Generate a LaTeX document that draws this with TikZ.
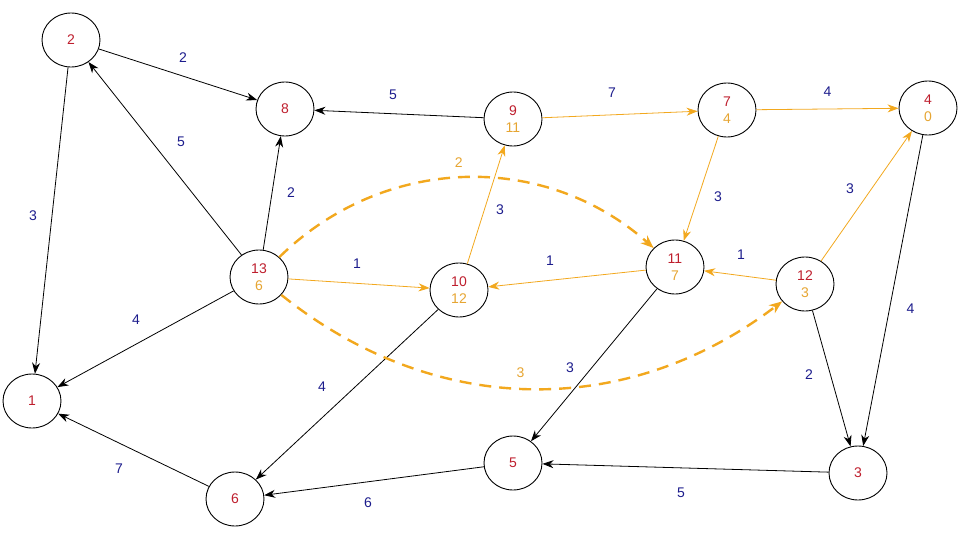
\documentclass[tikz,border=0pt]{standalone}
\usepackage{fontspec}
\setmainfont{Liberation Sans}
\usetikzlibrary{shapes.geometric, arrows.meta}

\definecolor{numred}{RGB}{190,30,45}
\definecolor{pathorange}{RGB}{242,168,30}
\definecolor{distorange}{RGB}{230,165,50}
\definecolor{wblue}{RGB}{28,28,140}

\begin{document}
\begin{tikzpicture}[
			x=1pt, y=-1pt,
			vertex/.style={ellipse, draw, line width=0.9pt, minimum width=58pt, minimum height=54pt, inner sep=0pt, align=center, font=\fontsize{14}{17}\selectfont},
			arrow/.style={-{Stealth[length=11pt, width=8pt, inset=3.5pt]}, line width=0.8pt},
			tree/.style={arrow, draw=pathorange},
			jump/.style={-{Stealth[length=13pt, width=10pt, inset=4pt]}, draw=pathorange, line width=2.4pt, dash pattern=on 12pt off 8pt},
			lbl/.style={font=\fontsize{14}{16}\selectfont, text=wblue},
			jlbl/.style={font=\fontsize{14}{16}\selectfont, text=distorange}
			]
			\useasboundingbox (0,0) rectangle (960,540);
			% vertices: number on top, distance below
			\node[vertex] (n1) at (32,401) {\textcolor{numred}{1}};
			\node[vertex] (n2) at (71,40) {\textcolor{numred}{2}};
			\node[vertex] (n3) at (858,473) {\textcolor{numred}{3}};
			\node[vertex] (n4) at (928,108) {\textcolor{numred}{4}\\\textcolor{distorange}{0}};
			\node[vertex] (n5) at (513,463) {\textcolor{numred}{5}};
			\node[vertex] (n6) at (235,499) {\textcolor{numred}{6}};
			\node[vertex] (n7) at (727,110) {\textcolor{numred}{7}\\\textcolor{distorange}{4}};
			\node[vertex] (n8) at (285,109) {\textcolor{numred}{8}};
			\node[vertex] (n9) at (513,119) {\textcolor{numred}{9}\\\textcolor{distorange}{11}};
			\node[vertex] (n10) at (459,290) {\textcolor{numred}{10}\\\textcolor{distorange}{12}};
			\node[vertex] (n11) at (675,267) {\textcolor{numred}{11}\\\textcolor{distorange}{7}};
			\node[vertex] (n12) at (805,284) {\textcolor{numred}{12}\\\textcolor{distorange}{3}};
			\node[vertex] (n13) at (259,277) {\textcolor{numred}{13}\\\textcolor{distorange}{6}};
			
			% plain edges
			\draw[arrow] (n2) -- node[lbl, shift={(5,-16.5)}] {2} (n8);
			\draw[arrow] (n2) -- node[lbl, shift={(-18.5,-4.5)}] {3} (n1);
			\draw[arrow] (n13) -- node[lbl, shift={(16,-16.5)}] {5} (n2);
			\draw[arrow] (n13) -- node[lbl, shift={(19,0)}] {2} (n8);
			\draw[arrow] (n9) -- node[lbl, shift={(-6,-19)}] {5} (n8);
			\draw[arrow] (n13) -- node[lbl, shift={(-9.5,-19)}] {4} (n1);
			\draw[arrow] (n10) -- node[lbl, shift={(-25,-7.5)}] {4} (n6);
			\draw[arrow] (n6) -- node[lbl, shift={(-14.5,19)}] {7} (n1);
			\draw[arrow] (n5) -- node[lbl, shift={(-6,22)}] {6} (n6);
			\draw[arrow] (n11) -- node[lbl, shift={(-24,3)}] {3} (n5);
			\draw[arrow] (n12) -- node[lbl, shift={(-22.5,-3.5)}] {2} (n3);
			\draw[arrow] (n4) -- node[lbl, pos=0.56, shift={(21,0)}] {4} (n3);
			\draw[arrow] (n3) -- node[lbl, shift={(-4.5,25)}] {5} (n5);
			
			% shortest path tree
			\draw[tree] (n9) -- node[lbl, shift={(-8,-22)}] {7} (n7);
			\draw[tree] (n7) -- node[lbl, shift={(0,-17)}] {4} (n4);
			\draw[tree] (n7) -- node[lbl, shift={(17,8.5)}] {3} (n11);
			\draw[tree] (n13) -- node[lbl, shift={(-2,-20)}] {1} (n10);
			\draw[tree] (n10) -- node[lbl, shift={(14,5)}] {3} (n9);
			\draw[tree] (n11) -- node[lbl, shift={(-17,-18)}] {1} (n10);
			\draw[tree] (n12) -- node[lbl, shift={(1,-21)}] {1} (n11);
			\draw[tree] (n12) -- node[lbl, shift={(-16.5,-7)}] {3} (n4);
			
			% shortcuts
			\draw[jump] (n13) to[bend left=43] node[jlbl, shift={(-6,-15)}] {2} (n11);
			\draw[jump] (n13) to[bend right=38] node[jlbl, shift={(-10,-16)}] {3} (n12);
		\end{tikzpicture}
\end{document}
